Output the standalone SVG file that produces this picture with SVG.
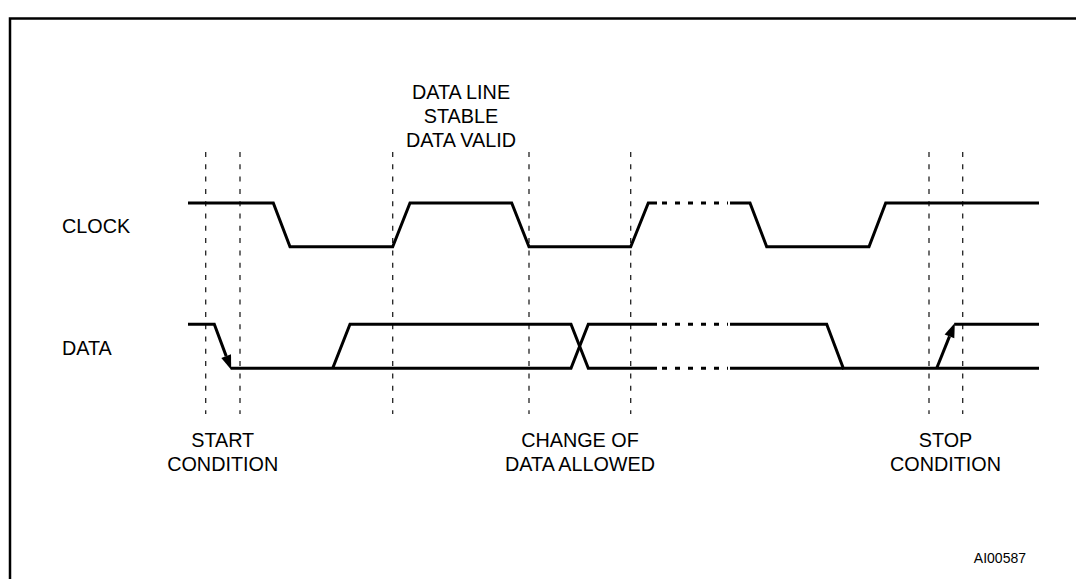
<svg xmlns="http://www.w3.org/2000/svg" width="1076" height="579" viewBox="0 0 1076 579">
<style>
.sig{fill:none;stroke:#000;stroke-width:3;stroke-linejoin:miter}
.dot{fill:none;stroke:#000;stroke-width:3;stroke-dasharray:5 8}
.guide{fill:none;stroke:#222;stroke-width:1.3;stroke-dasharray:5 7.3}
.head{fill:#000;stroke:none}
text{font-family:"Liberation Sans",Arial,sans-serif;font-size:19.8px;fill:#000}
.c{text-anchor:middle}
</style>
<path d="M10,620 V18.5 H1200" fill="none" stroke="#000" stroke-width="2.5"/>
<g id="guides">
<line class="guide" x1="205.7" y1="152" x2="205.7" y2="414"/>
<line class="guide" x1="240" y1="152" x2="240" y2="414"/>
<line class="guide" x1="392.7" y1="152" x2="392.7" y2="414"/>
<line class="guide" x1="529" y1="152" x2="529" y2="414"/>
<line class="guide" x1="630.7" y1="152" x2="630.7" y2="414"/>
<line class="guide" x1="929" y1="152" x2="929" y2="414"/>
<line class="guide" x1="962.7" y1="152" x2="962.7" y2="414"/>
</g>
<g id="clock">
<polyline class="sig" points="188,203 273.3,203 290,246.7 392.7,246.7 410,203 511.7,203 529,246.7 630.7,246.7 648.3,203 657,203"/>
<line class="dot" x1="662" y1="203" x2="728" y2="203"/>
<polyline class="sig" points="730,203 750,203 766.7,246.7 869,246.7 885.7,203 1039,203"/>
</g>
<g id="data">
<polyline class="sig" points="188,324.3 214.3,324.3 226.2,356.1"/>
<polyline class="sig" points="230.7,368.3 571,368.3 588.3,324.3 657,324.3"/>
<polyline class="sig" points="332.7,368.3 350,324.3 571,324.3 588.3,368.3 657,368.3"/>
<line class="dot" x1="662" y1="324.3" x2="728" y2="324.3"/>
<line class="dot" x1="662" y1="368.3" x2="728" y2="368.3"/>
<polyline class="sig" points="730,324.3 826.7,324.3 843.3,368.3 1039,368.3"/>
<polyline class="sig" points="730,368.3 843.3,368.3"/>
<polyline class="sig" points="936.7,368.3 949.5,336.4"/>
<line class="sig" x1="954.3" y1="324.3" x2="1039" y2="324.3"/>
</g>
<g id="connectors">
<polygon class="head" points="231.2,369.7 221.3,357.9 231,354.3"/>
<polygon class="head" points="954.8,322.9 954.3,338.3 944.6,334.5"/>
</g>
<g id="labels">
<text x="62" y="233.3">CLOCK</text>
<text x="62" y="355">DATA</text>
<text class="c" x="461" y="98.5">DATA LINE</text>
<text class="c" x="461" y="122.5">STABLE</text>
<text class="c" x="461" y="146.5">DATA VALID</text>
<text class="c" x="222.7" y="447.3">START</text>
<text class="c" x="222.7" y="471">CONDITION</text>
<text class="c" x="580" y="447.3">CHANGE OF</text>
<text class="c" x="580" y="471">DATA ALLOWED</text>
<text class="c" x="945.5" y="447.3">STOP</text>
<text class="c" x="945.5" y="471">CONDITION</text>
<text x="1026" y="563" text-anchor="end" style="font-size:14px">AI00587</text>
</g>
</svg>
